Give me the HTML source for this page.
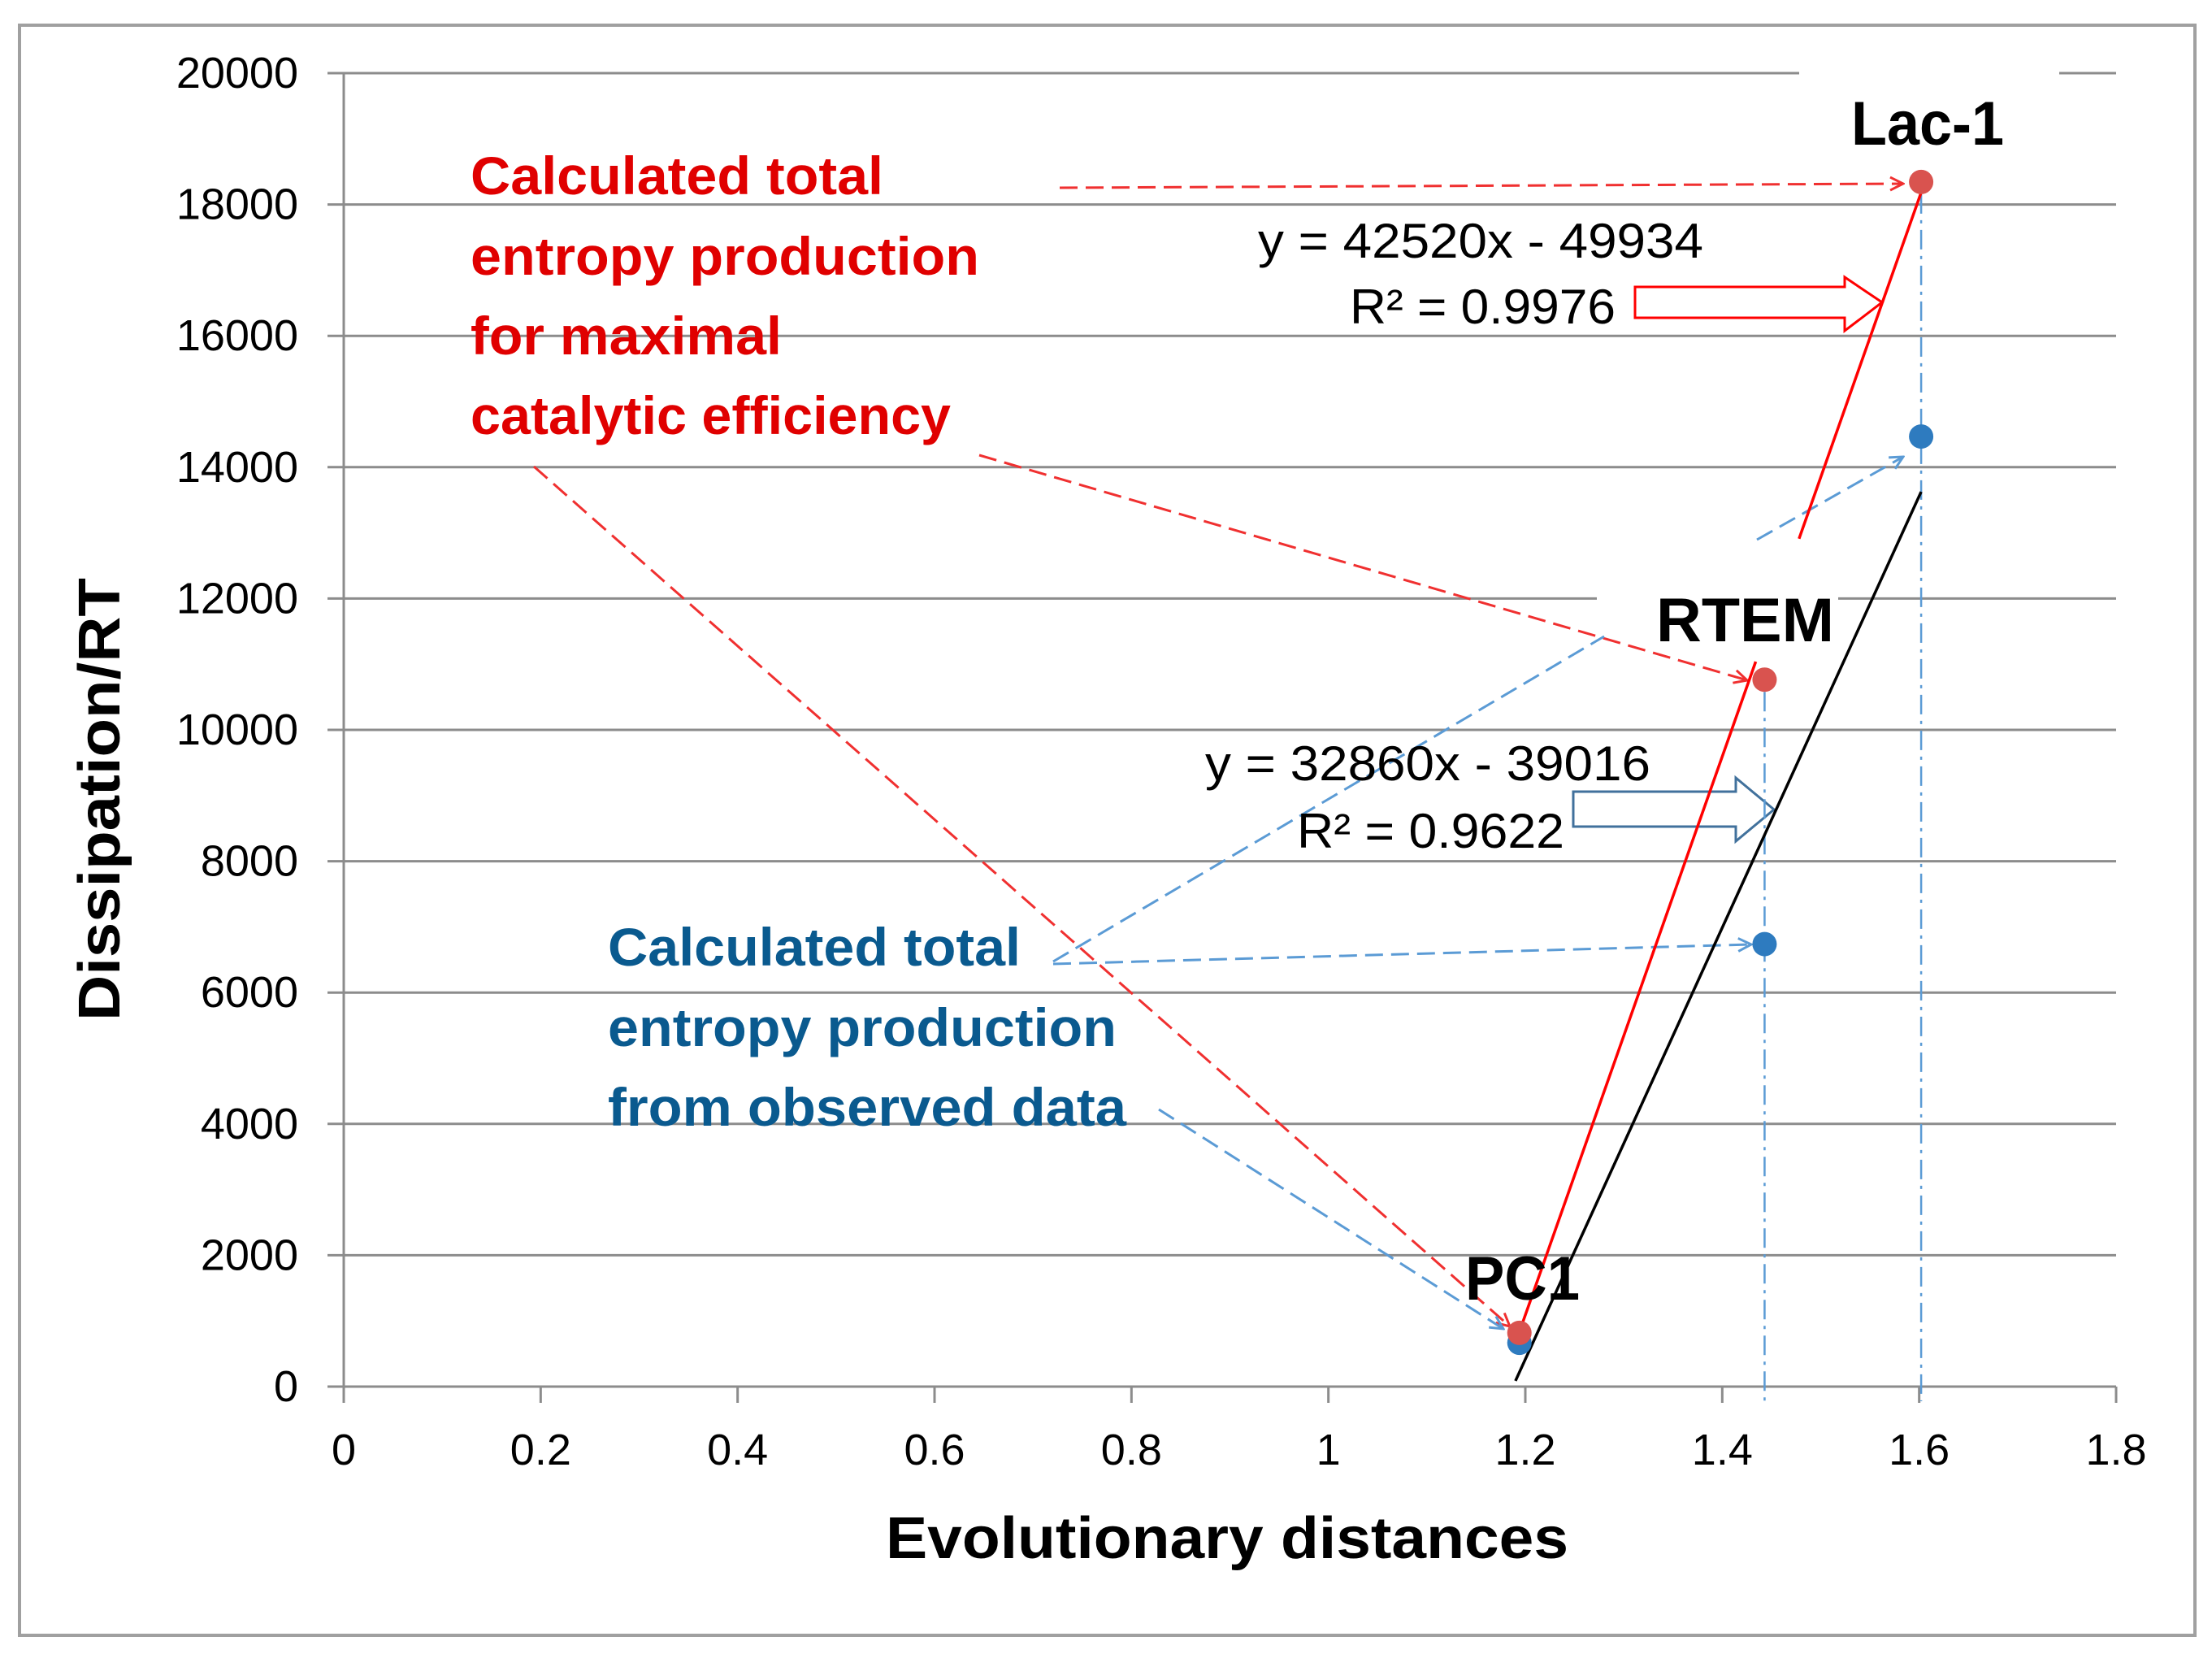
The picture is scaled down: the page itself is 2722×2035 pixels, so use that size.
<!DOCTYPE html>
<html><head><meta charset="utf-8">
<style>
html,body{margin:0;padding:0;background:#fff;}
svg{display:block;}
text{font-family:"Liberation Sans Narrow","Liberation Sans",sans-serif;}
</style></head>
<body>
<svg id="chart" width="2722" height="2035" viewBox="0 0 2722 2035" xmlns="http://www.w3.org/2000/svg">
<defs>
<marker id="ahR" viewBox="0 0 20 20" refX="18" refY="10" markerWidth="20" markerHeight="20" markerUnits="userSpaceOnUse" orient="auto"><path d="M2,2 L18,10 L2,18" fill="none" stroke="#f03030" stroke-width="3"/></marker>
<marker id="ahB" viewBox="0 0 20 20" refX="18" refY="10" markerWidth="20" markerHeight="20" markerUnits="userSpaceOnUse" orient="auto"><path d="M2,2 L18,10 L2,18" fill="none" stroke="#5b9bd5" stroke-width="3"/></marker>
</defs>
<rect x="24" y="31" width="2677" height="1981" fill="#fff" stroke="#a0a0a0" stroke-width="4"/>
<g id="grid"></g>
<g id="axes"></g>
<g id="annot"></g>
<g id="marks"></g>
<g id="labels"></g>
</svg>
<script>
const xTicks = [0, 0.2, 0.4, 0.6, 0.8, 1, 1.2, 1.4, 1.6, 1.8];
const xTickLabels = ["0", "0.2", "0.4", "0.6", "0.8", "1", "1.2", "1.4", "1.6", "1.8"];
const yTicks = [0, 2000, 4000, 6000, 8000, 10000, 12000, 14000, 16000, 18000, 20000];
const yTickLabels = ["0", "2000", "4000", "6000", "8000", "10000", "12000", "14000", "16000", "18000", "20000"];
const pointNames = ["PC1", "RTEM", "Lac-1"];
const distances = [1.194, 1.443, 1.602];
const maxEfficiency = [818, 10764, 18343];
const observed = [667, 6738, 14467];
const redFit = [42520, -49934];
const blackFit = [32860, -39016];

const NS = "http://www.w3.org/2000/svg";
const X0 = 423, X1 = 2604, Y0 = 1706, Y1 = 90;
function X(v){ return X0 + (v - 0) / 1.8 * (X1 - X0); }
function Y(v){ return Y0 - v / 20000 * (Y0 - Y1); }
function mk(tag, attrs, parent){ const e = document.createElementNS(NS, tag); for (const k in attrs) e.setAttribute(k, attrs[k]); parent.appendChild(e); return e; }
const grid = document.getElementById('grid'), axes = document.getElementById('axes'), annot = document.getElementById('annot'), marks = document.getElementById('marks'), labels = document.getElementById('labels');

yTicks.forEach((t, i) => {
  const y = Y(t);
  if (t !== 0) {
    let segs = [[X0 - 20, X1]];
    if (t === 20000) segs = [[X0 - 20, 2214], [2534, X1]];
    if (t === 12000) segs = [[X0 - 20, 1965], [2262, X1]];
    segs.forEach(s => {
      const l = mk('line', {x1: s[0], x2: s[1], y1: y, y2: y, stroke: '#8c8c8c', 'stroke-width': 3}, grid);
      
      
    });
  }
  const tl = mk('text', {x: 367, y: y + 18, 'text-anchor': 'end', 'font-size': 54, fill: '#000'}, axes);
  tl.textContent = yTickLabels[i];
  
  
});
let a = mk('line', {x1: X0, x2: X0, y1: Y1, y2: Y0, stroke: '#8c8c8c', 'stroke-width': 3}, axes);


a = mk('line', {x1: X0 - 20, x2: X1, y1: Y0, y2: Y0, stroke: '#8c8c8c', 'stroke-width': 3}, axes);


xTicks.forEach((t, i) => {
  const x = X(t);
  const tk = mk('line', {x1: x, x2: x, y1: Y0, y2: Y0 + 20, stroke: '#8c8c8c', 'stroke-width': 3}, axes);
  
  
  const tl = mk('text', {x: x, y: 1802, 'text-anchor': 'middle', 'font-size': 54, fill: '#000'}, axes);
  tl.textContent = xTickLabels[i];
  
  
});

[1, 2].forEach(i => {
  const dl = mk('line', {x1: X(distances[i]), x2: X(distances[i]), y1: Y(maxEfficiency[i]) + 15, y2: Y0 + 18, stroke: '#5b9bd5', 'stroke-width': 2.5, 'stroke-dasharray': '24 8 4 8'}, marks);
  
  
});

function fit(f, x){ return f[0] * x + f[1]; }
const xs = distances[0], xe = distances[2];
let tl1 = mk('line', {x1: X(xs), y1: Y(fit(redFit, xs)), x2: X(1.434), y2: Y(fit(redFit, 1.434)), stroke: '#ff0000', 'stroke-width': 3.5}, marks);


tl1 = mk('line', {x1: X(1.478), y1: Y(fit(redFit, 1.478)), x2: X(xe), y2: Y(fit(redFit, xe)), stroke: '#ff0000', 'stroke-width': 3.5}, marks);


const bx0 = 1.19;
const tl2 = mk('line', {x1: X(bx0), y1: Y(fit(blackFit, bx0)), x2: X(xe), y2: Y(fit(blackFit, xe)), stroke: '#000', 'stroke-width': 3.5}, marks);



distances.forEach((d, i) => {
  const pb = mk('circle', {cx: X(d), cy: Y(observed[i]), r: 15, fill: '#2e7bbf'}, marks);
  
  
  const pr = mk('circle', {cx: X(d), cy: Y(maxEfficiency[i]), r: 15, fill: '#d9534f'}, marks);
  
  
});

const ann = [
  ['red', 1304, 231, 2342, 226, true],
  ['red', 1205, 560, 2150, 837, true],
  ['red', 657, 574, 1858, 1632, true],
  ['blue', 2162, 664, 2342, 562, true],
  ['blue', 1296, 1183, 1974, 783, false],
  ['blue', 1296, 1186, 2155, 1162, true],
  ['blue', 1426, 1365, 1850, 1635, true]
];
ann.forEach(p => {
  const c = p[0] === 'red' ? '#f03030' : '#5b9bd5';
  const attrs = {x1: p[1], y1: p[2], x2: p[3], y2: p[4], stroke: c, 'stroke-width': 3, 'stroke-dasharray': '22 10'};
  if (p[5]) attrs['marker-end'] = p[0] === 'red' ? 'url(#ahR)' : 'url(#ahB)';
  const l = mk('line', attrs, annot);
  
  
});
let ba = mk('path', {d: 'M2012,353 L2270,353 L2270,341 L2316,372 L2270,407 L2270,391 L2012,391 Z', fill: '#fff', stroke: '#ff0000', 'stroke-width': 3}, annot);


ba = mk('path', {d: 'M1936,974 L2136,974 L2136,957 L2183,996 L2136,1035 L2136,1017 L1936,1017 Z', fill: '#fff', stroke: '#41719c', 'stroke-width': 3}, annot);


</script>
<svg style="position:absolute;left:0;top:0" width="2722" height="2035">
<g font-family="Liberation Sans Narrow, Liberation Sans, sans-serif">
<text x="579" y="239" font-size="66" font-weight="bold" fill="#e00000" textLength="508" lengthAdjust="spacingAndGlyphs">Calculated total</text>
<text x="579" y="338" font-size="66" font-weight="bold" fill="#e00000" textLength="626" lengthAdjust="spacingAndGlyphs">entropy production</text>
<text x="579" y="436" font-size="66" font-weight="bold" fill="#e00000" textLength="383" lengthAdjust="spacingAndGlyphs">for maximal</text>
<text x="579" y="534" font-size="66" font-weight="bold" fill="#e00000" textLength="591" lengthAdjust="spacingAndGlyphs">catalytic efficiency</text>
<text x="748" y="1188" font-size="66" font-weight="bold" fill="#0a5a8f" textLength="508" lengthAdjust="spacingAndGlyphs">Calculated total</text>
<text x="748" y="1287" font-size="66" font-weight="bold" fill="#0a5a8f" textLength="626" lengthAdjust="spacingAndGlyphs">entropy production</text>
<text x="748" y="1385" font-size="66" font-weight="bold" fill="#0a5a8f" textLength="638" lengthAdjust="spacingAndGlyphs">from observed data</text>
<text x="1548" y="317" font-size="60" fill="#000" textLength="548" lengthAdjust="spacingAndGlyphs">y = 42520x - 49934</text>
<text x="1661" y="398" font-size="60" fill="#000" textLength="327" lengthAdjust="spacingAndGlyphs">R² = 0.9976</text>
<text x="1483" y="960" font-size="60" fill="#000" textLength="548" lengthAdjust="spacingAndGlyphs">y = 32860x - 39016</text>
<text x="1596" y="1043" font-size="60" fill="#000" textLength="329" lengthAdjust="spacingAndGlyphs">R² = 0.9622</text>
<text x="2278" y="178" font-size="76" font-weight="bold" fill="#000" textLength="188" lengthAdjust="spacingAndGlyphs">Lac-1</text>
<text x="2038" y="789" font-size="76" font-weight="bold" fill="#000" textLength="219" lengthAdjust="spacingAndGlyphs">RTEM</text>
<text x="1803" y="1599" font-size="76" font-weight="bold" fill="#000" textLength="141" lengthAdjust="spacingAndGlyphs">PC1</text>
<text x="1090" y="1917" font-size="72" font-weight="bold" fill="#000" textLength="840" lengthAdjust="spacingAndGlyphs">Evolutionary distances</text>
<text transform="translate(147,1256) rotate(-90)" x="0" y="0" font-size="72" font-weight="bold" fill="#000" textLength="545" lengthAdjust="spacingAndGlyphs">Dissipation/RT</text>
</g>
</svg>
</body></html>
